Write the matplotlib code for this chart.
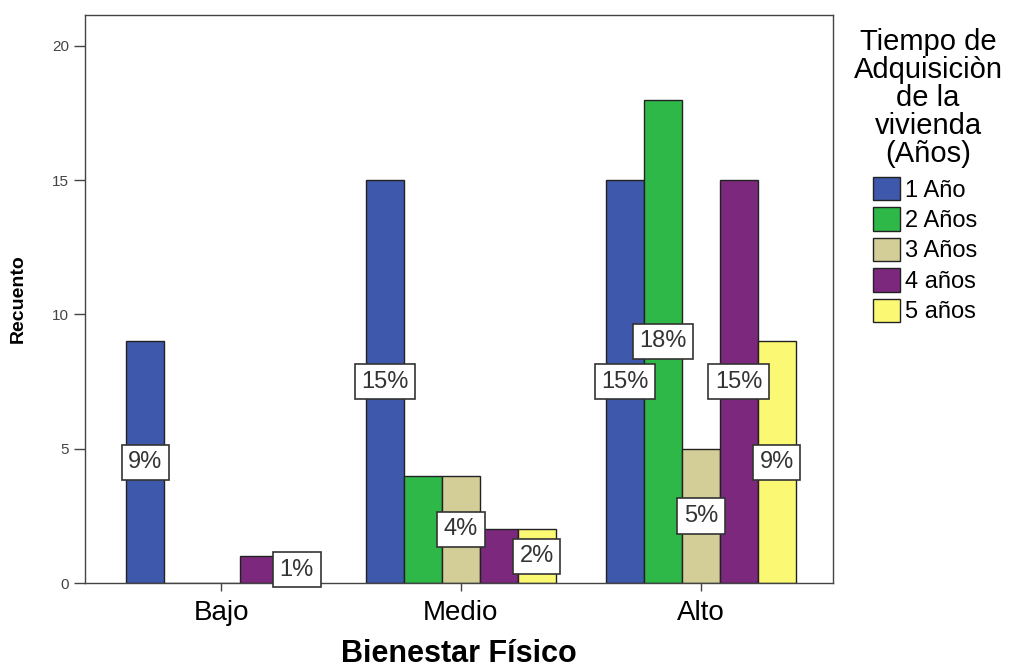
import numpy as np
import matplotlib.pyplot as plt

plt.rcParams['font.family'] = ['Liberation Sans', 'DejaVu Sans']

# datos
grupos = ['Bajo', 'Medio', 'Alto']
series = ['1 Año', '2 Años', '3 Años', '4 años', '5 años']
colores = ['#3E58AC', '#2EB848', '#D3CE97', '#7C287D', '#FBF873']

valores = [
    [9, 15, 15],   # 1 Año
    [0, 4, 18],    # 2 Años
    [0, 4, 5],     # 3 Años
    [1, 2, 15],    # 4 años
    [0, 2, 9],     # 5 años
]

# etiquetas de porcentaje (None = sin etiqueta)
etiquetas = [
    ['9%', '15%', '15%'],
    [None, None, '18%'],
    [None, '4%', '5%'],
    [None, None, '15%'],
    ['1%', '2%', '9%'],
]
# recuento al que corresponde cada etiqueta (se pone a media altura)
etiqueta_ref = [
    [9, 15, 15],
    [0, 4, 18],
    [0, 4, 5],
    [1, 2, 15],
    [1, 2, 9],
]

fig = plt.figure(figsize=(10.27, 6.68), dpi=100)
ax = fig.add_axes([0.0828, 0.1272, 0.728, 0.8503])

x = np.arange(len(grupos))
ancho = 0.158

for i, serie in enumerate(series):
    pos = x + (i - 2) * ancho
    ax.bar(pos, valores[i], width=ancho, color=colores[i], edgecolor='#222222',
           linewidth=1.0, label=serie, zorder=2)
    for j in range(len(grupos)):
        if etiquetas[i][j] is not None:
            ax.text(pos[j], etiqueta_ref[i][j] / 2, etiquetas[i][j], ha='center', va='center',
                    fontsize=17, color='#333333', zorder=3,
                    bbox=dict(boxstyle='square,pad=0.28', fc='white', ec='#333333', lw=1.2))

ax.set_xlim(-0.567, 2.55)
ax.set_ylim(0, 21.15)
ax.set_yticks([0, 5, 10, 15, 20])
ax.set_yticklabels(['0', '5', '10', '15', '20'], fontsize=11, color='#444444')
ax.set_xticks(x)
ax.set_xticklabels(grupos, fontsize=20)
ax.tick_params(axis='y', length=8, width=1, direction='out', color='#444444')
ax.tick_params(axis='x', length=6, width=1, direction='out', pad=6, color='#444444')

for s in ax.spines.values():
    s.set_color('#444444')
    s.set_linewidth(1)

ax.set_ylabel('Recuento', fontsize=14, fontweight='bold')
ax.yaxis.set_label_coords(-0.078, 0.5)
ax.set_xlabel('Bienestar Físico', fontsize=22, fontweight='bold')
ax.xaxis.set_label_coords(0.5, -0.098)

# titulo de la leyenda
fig.text(928 / 1027, 1 - 28 / 668, 'Tiempo de\nAdquisiciòn\nde la\nvivienda\n(Años)',
         ha='center', va='top', fontsize=21, linespacing=1.0,
         multialignment='center')

ax.legend(loc='upper left', bbox_to_anchor=(873 / 1027, 1 - 177 / 668),
          bbox_transform=fig.transFigure, frameon=False, fontsize=17,
          handlelength=1.15, handleheight=1.15, handletextpad=0.2,
          labelspacing=0.24, borderpad=0, borderaxespad=0)

fig.savefig('out.png', dpi=100)
